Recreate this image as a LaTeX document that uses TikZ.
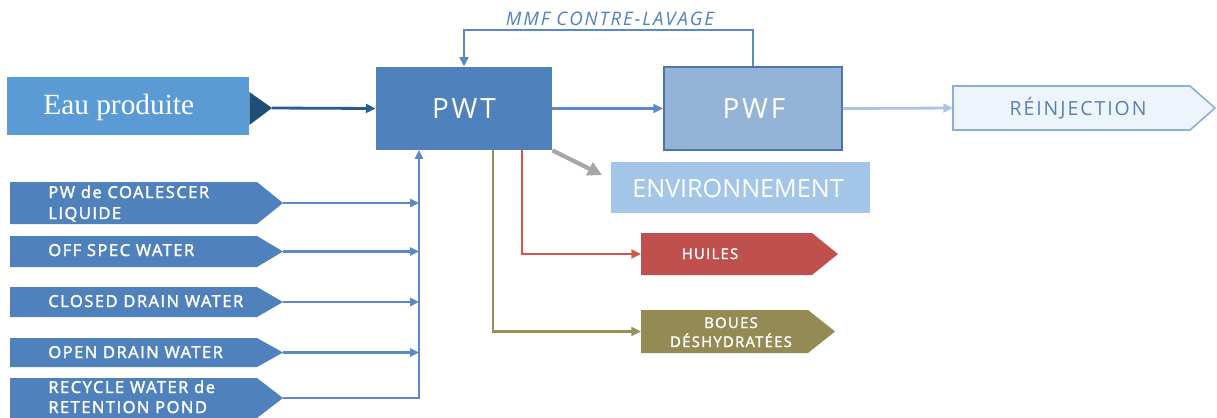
\documentclass[tikz,border=0pt]{standalone}
\usepackage{fontspec}
\setmainfont{Open Sans}
\newfontfamily\spacedsans[LetterSpace=10]{Open Sans}
\newfontfamily\tagsans[LetterSpace=9,FakeBold=2]{Open Sans}
\newfontfamily\romanface{Liberation Serif}
\usetikzlibrary{arrows.meta}

\definecolor{eaufill}{HTML}{5B9BD5}
\definecolor{darkblue}{HTML}{1F4E79}
\definecolor{darkline}{HTML}{2B5C8E}
\definecolor{mainblue}{HTML}{4F81BD}
\definecolor{lineblue}{HTML}{5A8AC6}
\definecolor{pwffill}{HTML}{95B3D7}
\definecolor{pwfedge}{HTML}{4A76AD}
\definecolor{envfill}{HTML}{A3C6E8}
\definecolor{reinjfill}{HTML}{EEF4FB}
\definecolor{reinjedge}{HTML}{8DB0DA}
\definecolor{reinjtext}{HTML}{5A80B0}
\definecolor{paleline}{HTML}{A9C4E4}
\definecolor{oilred}{HTML}{C0504D}
\definecolor{oilline}{HTML}{D9534F}
\definecolor{olive}{HTML}{948A54}
\definecolor{oliveline}{HTML}{9A8F56}
\definecolor{envarrow}{HTML}{A6A6A6}

\tikzset{
  lbl/.style={inner sep=0pt, text=white},
  blockbox/.style={inner sep=0pt, minimum width=#1},
  flow/.style={line width=1.6pt, -{Triangle[length=5.5pt,width=5pt]}},
  feed/.style={line width=1.5pt, lineblue, -{Triangle[length=5pt,width=4.5pt]}},
  tagfont/.style={font=\tagsans\fontsize{9.4}{11.9}\selectfont},
  smallfont/.style={font=\tagsans\fontsize{8.4}{10.8}\selectfont},
}

\begin{document}
\begin{tikzpicture}[x=0.02cm,y=-0.02cm]
\useasboundingbox (0,0) rectangle (1217,417);

% --- produced water inlet ---
\node[blockbox=4.84cm, minimum height=1.16cm, fill=eaufill] (eau) at (128,106) {};
\fill[darkblue] (eau.east |- 0,92) -- (272,108) -- (eau.east |- 0,125) -- cycle;
\coordinate (eautip) at (272,108);
\node[lbl, anchor=base west, font=\romanface\fontsize{16.7}{18}\selectfont] (eaulbl) at (43,114) {Eau produite};

% --- treatment blocks ---
\node[blockbox=3.52cm, minimum height=1.66cm, fill=mainblue] (pwt) at (464,108.5) {};
\node[lbl, anchor=base, font=\spacedsans\fontsize{15.9}{18}\selectfont] (pwtlbl) at (464,118) {PWT};

\node[blockbox=3.56cm, minimum height=1.66cm, fill=pwffill, draw=pwfedge, line width=1.1pt] (pwf) at (753,108.5) {};
\node[lbl, anchor=base, font=\spacedsans\fontsize{15.9}{18}\selectfont] (pwflbl) at (754,118) {PWF};

% --- reinjection ---
\filldraw[fill=reinjfill, draw=reinjedge, line width=0.9pt]
  (953,86) -- (1190,86) -- (1215,108) -- (1190,130) -- (953,130) -- cycle;
\coordinate (reinj) at (953,108);
\node[inner sep=0pt, text=reinjtext, anchor=base, font=\spacedsans\fontsize{11.1}{13}\selectfont] (reinjlbl) at (1078,115) {RÉINJECTION};

% --- environment ---
\node[blockbox=5.18cm, minimum height=1.02cm, fill=envfill] (env) at (740.5,187.5) {};
\node[lbl, anchor=base, font=\fontsize{14.3}{16}\selectfont] (envlbl) at (738,197) {ENVIRONNEMENT};
\coordinate (envtip) at (602,175);

% --- oils ---
\fill[oilred] (641,233) -- (812,233) -- (838,254) -- (812,275) -- (641,275) -- cycle;
\coordinate (huiles) at (641,254);
\node[lbl, anchor=base, smallfont] (huileslbl) at (710,259) {HUILES};

% --- dewatered sludge ---
\fill[olive] (641,310) -- (808,310) -- (835,331.5) -- (808,353) -- (641,353) -- cycle;
\coordinate (boues) at (641,331.5);
\node[lbl, anchor=base, smallfont] (bouesa) at (731,328) {BOUES};
\node[lbl, anchor=base, smallfont] (bouesb) at (731,347) {DÉSHYDRATÉES};

% --- secondary water sources ---
\fill[mainblue] (10,182) -- (257,182) -- (283,203) -- (257,224) -- (10,224) -- cycle;
\fill[mainblue] (10,236) -- (257,236) -- (283,251.5) -- (257,267) -- (10,267) -- cycle;
\fill[mainblue] (10,287) -- (257,287) -- (283,302) -- (257,317) -- (10,317) -- cycle;
\fill[mainblue] (10,338) -- (257,338) -- (283,352.5) -- (257,367) -- (10,367) -- cycle;
\fill[mainblue] (10,378) -- (257,378) -- (283,398) -- (257,418) -- (10,418) -- cycle;
\coordinate (src1) at (283,203);
\coordinate (src2) at (283,251.5);
\coordinate (src3) at (283,302);
\coordinate (src4) at (283,352.5);
\coordinate (src5) at (283,398);
\node[lbl, anchor=base west, tagfont] (s1a) at (48,198) {PW de COALESCER};
\node[lbl, anchor=base west, tagfont] (s1b) at (48,219) {LIQUIDE};
\node[lbl, anchor=base west, tagfont] (s2) at (48,256) {OFF SPEC WATER};
\node[lbl, anchor=base west, tagfont] (s3) at (48,307) {CLOSED DRAIN WATER};
\node[lbl, anchor=base west, tagfont] (s4) at (48,358) {OPEN DRAIN WATER};
\node[lbl, anchor=base west, tagfont] (s5a) at (48,393) {RECYCLE WATER de};
\node[lbl, anchor=base west, tagfont] (s5b) at (48,413) {RETENTION POND};

% --- connectors ---
\coordinate (bus) at (419,150);
\coordinate (redout) at (522,150);
\coordinate (oliveout) at (493,150);

\draw[flow, darkline] (eautip) -- (pwt.west);
\draw[flow, lineblue] (pwt.east) -- (pwf.west);
\draw[flow, paleline] (pwf.east) -- (reinj);
\draw[flow, lineblue] (pwf.north) -- ++(0,-36) -| (pwt.north);
\node[inner sep=0pt, text=mainblue, anchor=base, font=\spacedsans\itshape\fontsize{10.6}{12}\selectfont] (mmf) at (610,25) {MMF CONTRE-LAVAGE};
\draw[envarrow, line width=2.4pt, -{Triangle[length=8pt,width=8pt]}] (pwt.south east) -- (envtip);
\draw[flow, oilline] (redout) |- (huiles);
\draw[flow, oliveline] (oliveout) |- (boues);

\draw[feed] (src1) -- (src1 -| bus);
\draw[feed] (src2) -- (src2 -| bus);
\draw[feed] (src3) -- (src3 -| bus);
\draw[feed] (src4) -- (src4 -| bus);
\draw[feed] (src5) -| (bus);
\end{tikzpicture}
\end{document}
